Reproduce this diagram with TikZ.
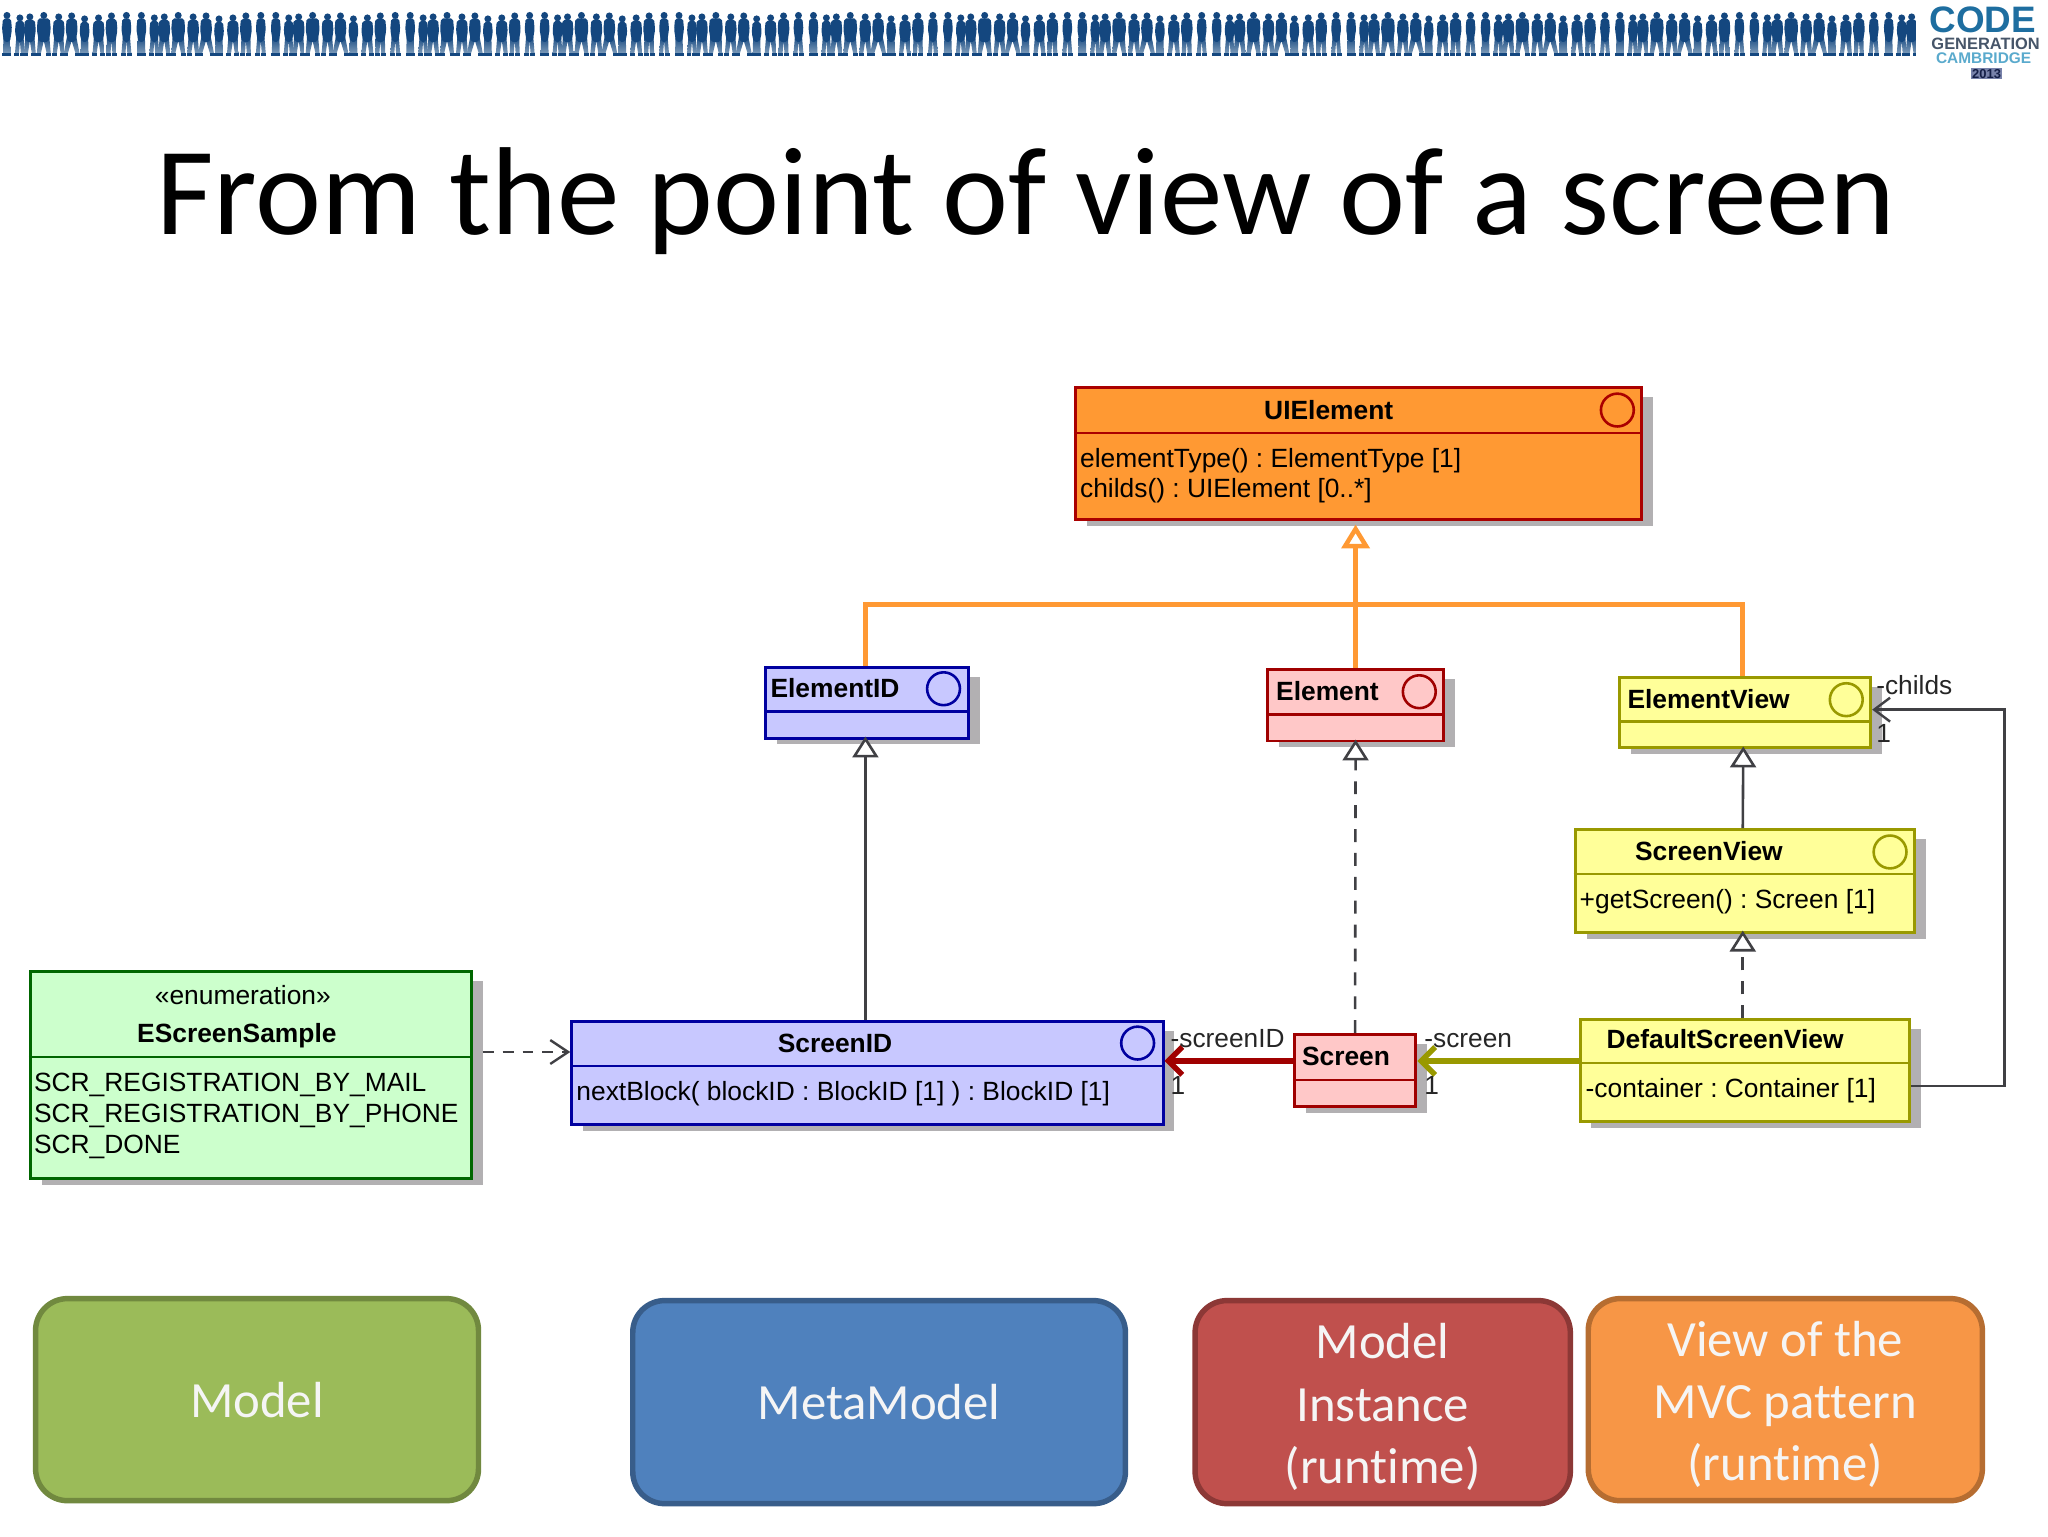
\documentclass[tikz,border=0pt]{standalone}
\usepackage{fontspec}
\setmainfont{Liberation Sans}
\newfontfamily\slidefont[Ligatures=NoCommon]{Carlito}
\usetikzlibrary{arrows.meta,calc}
\definecolor{shadowc}{HTML}{B2B0B2}
\definecolor{linec}{HTML}{404044}
\definecolor{orfill}{HTML}{FF9933}
\definecolor{ordraw}{HTML}{AA0000}
\definecolor{blfill}{HTML}{C8C8FF}
\definecolor{bldraw}{HTML}{0000A0}
\definecolor{rdfill}{HTML}{FFC8C8}
\definecolor{rddraw}{HTML}{A00000}
\definecolor{yefill}{HTML}{FFFF99}
\definecolor{yedraw}{HTML}{999900}
\definecolor{grfill}{HTML}{CCFFCC}
\definecolor{grdraw}{HTML}{006600}
\definecolor{people}{HTML}{14477F}
\definecolor{peoplelt}{HTML}{7F9DBB}
\tikzset{
  orangebox/.style={fill=orfill,draw=ordraw},
  bluebox/.style={fill=blfill,draw=bldraw},
  redbox/.style={fill=rdfill,draw=rddraw},
  yellowbox/.style={fill=yefill,draw=yedraw},
  greenbox/.style={fill=grfill,draw=grdraw},
  umlname/.style={font=\fontsize{26.5}{31}\selectfont\bfseries,inner sep=0pt,text=black},
  umltext/.style={font=\fontsize{26.5}{31}\selectfont,inner sep=0pt,text=black,anchor=west,align=left},
  role/.style={font=\fontsize{26.4}{31}\selectfont,inner sep=0pt,text=black!85,anchor=west},
  genline/.style={draw=linec,line width=2.6pt,shorten >=-3pt,-{Triangle[length=21pt,width=26pt,fill=white,line width=2.6pt]}},
  realline/.style={genline,dash pattern=on 13pt off 11pt},
  depline/.style={draw=linec,line width=2.6pt,dash pattern=on 11pt off 9pt,-{Straight Barb[length=18pt,width=24pt,line width=2.4pt]}},
  navline/.style={draw=linec,line width=2.6pt,-{Straight Barb[length=16pt,width=24pt,line width=2.4pt]}},
  assocred/.style={draw=rddraw,line width=6.5pt,-{Straight Barb[length=14pt,width=28pt,line width=5.5pt]}},
  assocol/.style={draw=yedraw,line width=6.5pt,-{Straight Barb[length=14pt,width=28pt,line width=5.5pt]}},
  orangeline/.style={draw=orfill,line width=5pt},
  legend/.style={rounded corners=32pt,line width=5.5pt,font=\slidefont\fontsize{51}{62.5}\selectfont,text=white!96!black,align=center,inner sep=0pt}
}
% name, x1,y1,x2,y2, separator y, style
\newcommand{\umlbox}[7]{%
  \fill[shadowc] (#2+13,#3+11) rectangle (#4+13,#5+8);
  \node[#7,line width=3pt,rectangle,inner sep=0pt,anchor=north west,minimum width=#4pt-#2pt,minimum height=#5pt-#3pt] (#1) at (#2,#3) {};
  \draw[#7,fill=none,line width=2.6pt] (#1.west |- 0,#6) -- (#1.east |- 0,#6);
}
\newcommand{\umlcirc}[3]{\draw[#3,fill=none,line width=2.6pt] (#1,#2) circle (16.5pt);}
% one figure: x, head y, half width of torso, half stance
\newcommand{\figperson}[4]{%
  \shade[top color=people,bottom color=peoplelt] (#1-#3+.5,36) -- (#1-#4-2,54) -- (#1-#4+2,54) -- (#1,41) -- (#1+#4-2,54) -- (#1+#4+2,54) -- (#1+#3-.5,36) -- cycle;
  \fill[people] (#1,#2) circle (3.5pt);
  \fill[people,rounded corners=2pt] (#1-#3,#2+3) -- (#1-#3-1,#2+14) -- (#1-#3+1,42) -- (#1+#3-1,42) -- (#1+#3+1,#2+14) -- (#1+#3,#2+3) -- cycle;
  \fill[people] (#1-#4-2.5,53) rectangle (#1-#4+2.5,56);
  \fill[people] (#1+#4-2.5,53) rectangle (#1+#4+2.5,56);
}
\begin{document}
\frenchspacing
\begin{tikzpicture}[x=1pt,y=-1pt]
\useasboundingbox (0,0) rectangle (2057.7,1543.3);
\fill[white] (0,0) rectangle (2057.7,1543.3);
% banner
\begin{scope}
\clip (0,0) rectangle (1925,70);
\foreach \n in {0,...,14}{
  \foreach \px/\hy/\w/\st in {7/15.5/4/2,20/18/4/3,30/17/5/4,44/15.5/6/5,59/17/5/4,72/16/5/6,85/19/4/2,99/18/5/4,112/16/5/3,127/15.5/4/3}{
    \pgfmathsetmacro{\xx}{\n*135.05+\px}
    \figperson{\xx}{\hy}{\w}{\st}
  }
}
\end{scope}
\node[inner sep=0pt,font=\fontsize{37}{37}\selectfont\bfseries,text={rgb,255:red,30;green,110;blue,160}] (logoa) at (1992,20) {CODE};
\node[inner sep=0pt,font=\fontsize{16.5}{16.5}\selectfont\bfseries,text={rgb,255:red,70;green,85;blue,105}] (logob) at (1995,44) {GENERATION};
\node[inner sep=0pt,font=\fontsize{15.5}{15.5}\selectfont\bfseries,text={rgb,255:red,90;green,170;blue,205}] (logoc) at (1993,58) {CAMBRIDGE};
\node[inner sep=1pt,font=\fontsize{13}{13}\selectfont\bfseries,fill={rgb,255:red,120;green,130;blue,170},text={rgb,255:red,20;green,30;blue,70}] (logod) at (1996,74) {2013};
% title
\node[inner sep=0pt,anchor=base,font=\slidefont\fontsize{125.7}{127}\selectfont,text=black] (title) at (1030.5,236) {From the point of view of a screen};
% boxes
\umlbox{uielement}{1079}{388}{1648}{520}{435}{orangebox}
\umlcirc{1625}{412}{orangebox}
\node[umlname] (uiname) at (1335,412) {UIElement};
\node[umltext] (uiattr) at (1085,478) {elementType() : ElementType [1]\\childs() : UIElement [0..*]};
\umlbox{elementid}{768}{669}{972}{740}{715}{bluebox}
\umlcirc{948}{692}{bluebox}
\node[umlname,anchor=west] (eidname) at (774,691) {ElementID};
\umlbox{element}{1272}{671}{1449}{743}{718}{redbox}
\umlcirc{1426}{695}{redbox}
\node[umlname,anchor=west] (elname) at (1282,694) {Element};
\umlbox{elementview}{1626}{679}{1878}{750}{725}{yellowbox}
\umlcirc{1855}{703}{yellowbox}
\node[umlname,anchor=west] (evname) at (1635,702) {ElementView};
\umlbox{screenview}{1581}{832}{1922}{935}{878}{yellowbox}
\umlcirc{1899}{856}{yellowbox}
\node[umlname] (svname) at (1717,855) {ScreenView};
\node[umltext] (svattr) at (1587,906) {+getScreen() : Screen [1]};
\umlbox{defaultview}{1586}{1023}{1917}{1125}{1068}{yellowbox}
\node[umlname,anchor=west] (dvname) at (1614,1044) {DefaultScreenView};
\node[umltext] (dvattr) at (1593,1096) {-container : Container [1]};
\umlbox{screen}{1299}{1038}{1421}{1110}{1085}{redbox}
\node[umlname,anchor=west] (scname) at (1308,1061) {Screen};
\umlbox{screenid}{573}{1025}{1167}{1128}{1071}{bluebox}
\umlcirc{1143}{1048}{bluebox}
\node[umlname] (sidname) at (839,1048) {ScreenID};
\node[umltext] (sidattr) at (579,1099) {nextBlock( blockID : BlockID [1] ) : BlockID [1]};
\umlbox{sample}{29}{975}{472}{1183}{1062}{greenbox}
\node[umltext,anchor=center] (samplest) at (244,1000) {«enumeration»};
\node[umlname] (samplename) at (238,1041) {EScreenSample};
\node[umltext] (sampleattr) at (34,1121) {SCR\_REGISTRATION\_BY\_MAIL\\SCR\_REGISTRATION\_BY\_PHONE\\SCR\_DONE};
% orange hierarchy
\coordinate (bus) at (1362,607);
\draw[orangeline,shorten >=4pt,-{Triangle[length=24pt,width=28pt,fill=white,line width=4.5pt]}] (bus) -- (bus |- uielement.south);
\draw[orangeline] ([xshift=-2pt]elementid.north) |- (bus);
\draw[orangeline] ([xshift=-3pt]elementview.north) |- (bus);
\draw[orangeline] (element.north) -- (element.north |- bus);
% generalisations
\draw[genline] ([xshift=-2pt]screenid.north) -- ([xshift=-2pt]elementid.south);
\draw[realline] (screen.north) -- (element.south);
\draw[genline] ([xshift=-2pt]screenview.north) -- ([xshift=-2pt]elementview.south);
\draw[realline] ([xshift=-2pt]defaultview.north) -- ([xshift=-2pt]screenview.south);
% dependency and associations
\coordinate (depstart) at (485,1057);
\draw[depline] (depstart) -- (depstart -| screenid.west);
\coordinate (assocy) at (1300,1066);
\draw[assocred] (screen.west |- assocy) -- (screenid.east |- assocy);
\draw[assocol] (defaultview.west |- assocy) -- (screen.east |- assocy);
\coordinate (rightx) at (2014,713);
\draw[navline] (defaultview.east |- 0,1091) -| (rightx) -- (elementview.east |- rightx);
% role labels
\node[role] (r1) at (1176,1044) {-screenID};
\node[role] (r2) at (1176,1091) {1};
\node[role] (r3) at (1431,1045) {-screen};
\node[role] (r4) at (1431,1091) {1};
\node[role] (r5) at (1885,688) {-childs};
\node[role] (r6) at (1885,737) {1};
% legend
\node[legend,fill={rgb,255:red,155;green,187;blue,89},draw={rgb,255:red,113;green,137;blue,63},anchor=north west,minimum width=445pt,minimum height=203pt] (lmodel) at (33,1302) {Model};
\node[legend,fill={rgb,255:red,79;green,129;blue,189},draw={rgb,255:red,56;green,93;blue,138},anchor=north west,minimum width=495pt,minimum height=204pt] (lmeta) at (633,1304) {MetaModel};
\node[legend,fill={rgb,255:red,192;green,80;blue,77},draw={rgb,255:red,140;green,56;blue,54},anchor=north west,minimum width=377pt,minimum height=204pt] (linst) at (1198,1304) {\rule{0pt}{45pt}Model\\Instance\\(runtime)};
\node[legend,fill={rgb,255:red,247;green,150;blue,70},draw={rgb,255:red,182;green,109;blue,49},anchor=north west,minimum width=396pt,minimum height=203pt] (lview) at (1593,1302) {\rule{0pt}{45pt}View of the\\MVC pattern\\(runtime)};
\end{tikzpicture}
\end{document}
